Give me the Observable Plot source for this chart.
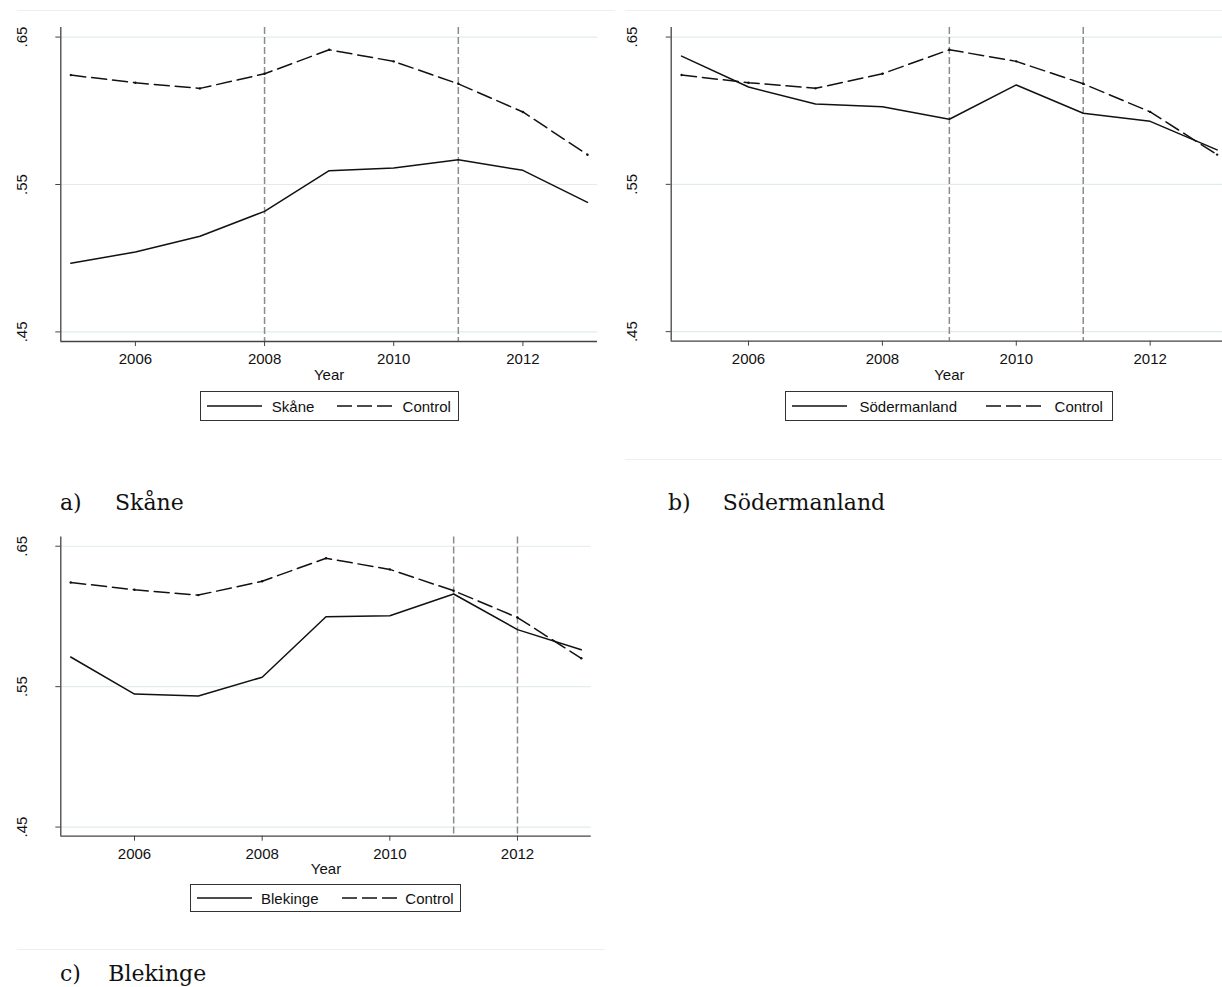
<!DOCTYPE html>
<html><head><meta charset="utf-8">
<script src="https://cdn.jsdelivr.net/npm/d3@7"></script>
<script src="https://cdn.jsdelivr.net/npm/@observablehq/plot@0.6"></script>
<style>
html,body{margin:0;padding:0;background:#fff;}
body{width:1222px;height:987px;overflow:hidden;position:relative;}
.panel{position:absolute;overflow:visible;}
.panel svg{max-width:none !important;display:block;}
.sep{position:absolute;height:1px;background:#eaf0f0;}
.cap{position:absolute;font-family:"DejaVu Serif",serif;font-size:22px;color:#111;white-space:nowrap;line-height:1;}
.legend{position:absolute;border:1px solid #333;box-sizing:border-box;font-family:"Liberation Sans",Arial,sans-serif;font-size:15px;color:#111;}
.legend .it{position:absolute;top:0;height:100%;display:flex;align-items:center;white-space:nowrap;}
</style></head><body>
<script>
// ---- data ----
const years = [2005, 2006, 2007, 2008, 2009, 2010, 2011, 2012, 2013];
const control = [0.6242, 0.6190, 0.6152, 0.6251, 0.6414, 0.6335, 0.6183, 0.5992, 0.5702];
const skane = [0.4966, 0.5042, 0.5149, 0.5318, 0.5594, 0.5612, 0.5668, 0.5596, 0.5379];
const sodermanland = [0.6371, 0.6161, 0.6046, 0.6027, 0.5942, 0.6175, 0.5983, 0.5928, 0.5734];
const blekinge = [0.5711, 0.5447, 0.5433, 0.5567, 0.5998, 0.6005, 0.6160, 0.5906, 0.5763];
const yTicks = [0.45, 0.55, 0.65];
const yTickLabels = [".45", ".55", ".65"];
const xTicks = [2006, 2008, 2010, 2012];
const seriesNames = ["Skåne", "Södermanland", "Blekinge"];
const controlName = "Control";
const eventsA = [2008, 2011];
const eventsB = [2009, 2011];
const eventsC = [2011, 2012];
const captions = ["a)", "b)", "c)"];

const xDomain = [2004.845, 2013.155];
const yDomain = [0.4435, 0.6565];

const panels = [
  {name: seriesNames[0], series: skane, events: eventsA, left: 0, top: 0, w: 610, h: 390, ml: 60.3, mr: 13, mt: 27, mb: 49, yearDy: 34, tickPad: 7,
   legend: {left: 199.6, top: 391, w: 259, h: 30, s1: 7, t1: 72.2, s2: 137.8, t2: 203}},
  {name: seriesNames[1], series: sodermanland, events: eventsB, left: 610, top: 0, w: 617, h: 390, ml: 60.7, mr: 0, mt: 27, mb: 49.3, yearDy: 34, tickPad: 7,
   legend: {left: 784.8, top: 391, w: 328, h: 30, s1: 7.1, t1: 74.7, s2: 201.7, t2: 269.8}},
  {name: seriesNames[2], series: blekinge, events: eventsC, left: 0, top: 520, w: 610, h: 360, ml: 60.3, mr: 19.3, mt: 16.6, mb: 44.3, yearDy: 32.6, tickPad: 7.5,
   legend: {left: 190, top: 884, w: 271, h: 28, s1: 6.7, t1: 71, s2: 151.7, t2: 215.3}}
];

function sample(dashed) {
  return `<svg width="55" height="10" style="display:block"><line x1="0" x2="55" y1="5" y2="5" stroke="#111" stroke-width="1.5" ${dashed ? 'stroke-dasharray="15,5"' : ''}/></svg>`;
}

panels.forEach(p => {
  const data = years.map((yr, i) => ({year: yr, v: p.series[i]}));
  const ctrl = years.map((yr, i) => ({year: yr, v: control[i]}));
  const plot = Plot.plot({
    width: p.w, height: p.h,
    marginLeft: p.ml, marginRight: p.mr, marginTop: p.mt, marginBottom: p.mb,
    style: {background: "transparent", fontFamily: "'Liberation Sans', Arial, sans-serif", fontSize: "15px", color: "#111", overflow: "visible"},
    x: {domain: xDomain, axis: null},
    y: {domain: yDomain, axis: null},
    marks: [
      Plot.gridY(yTicks, {stroke: "#e2ebee", strokeOpacity: 1, strokeWidth: 1.2}),
      Plot.ruleX(p.events, {stroke: "#8c8c8c", strokeWidth: 1.5, strokeDasharray: "7,3"}),
      Plot.ruleY([yDomain[0]], {stroke: "#444", strokeWidth: 1.3}),
      Plot.ruleX([xDomain[0]], {stroke: "#444", strokeWidth: 1.3}),
      Plot.axisX(xTicks, {tickSize: 5, tickPadding: p.tickPad, tickFormat: d => String(d), fontSize: 15, stroke: "#444", label: null}),
      Plot.axisY(yTicks, {tickSize: 5, tickFormat: () => "", stroke: "#444", label: null}),
      Plot.text(yTicks, {y: d => d, frameAnchor: "left", dx: -39, rotate: -90, text: (d, i) => yTickLabels[i], textAnchor: "middle", lineAnchor: "middle", fontSize: 15, fill: "#111"}),
      Plot.text(["Year"], {frameAnchor: "bottom", dy: p.yearDy, text: d => d, lineAnchor: "middle", fontSize: 15, fill: "#111"}),
      Plot.line(ctrl, {x: "year", y: "v", stroke: "#111", strokeWidth: 1.5, strokeDasharray: "15,6"}),
      Plot.dot(ctrl, {x: "year", y: "v", r: 1.2, fill: "#111"}),
      Plot.line(data, {x: "year", y: "v", stroke: "#111", strokeWidth: 1.5})
    ]
  });
  const div = document.createElement("div");
  div.className = "panel";
  div.style.left = p.left + "px";
  div.style.top = p.top + "px";
  div.style.width = p.w + "px";
  div.style.height = p.h + "px";
  div.appendChild(plot);
  document.body.appendChild(div);

  const L = p.legend;
  const lg = document.createElement("div");
  lg.className = "legend";
  lg.style.left = L.left + "px"; lg.style.top = L.top + "px";
  lg.style.width = L.w + "px"; lg.style.height = L.h + "px";
  lg.innerHTML =
    `<div class="it" style="left:${L.s1 - 1}px">${sample(false)}</div>` +
    `<div class="it" style="left:${L.t1 - 1}px">${p.name}</div>` +
    `<div class="it" style="left:${L.s2 - 1}px">${sample(true)}</div>` +
    `<div class="it" style="left:${L.t2 - 1}px">${controlName}</div>`;
  document.body.appendChild(lg);
});

// separators (document frame lines)
[[17, 10, 598], [625, 10, 597], [625, 459, 597], [17, 949, 588]].forEach(([x, y, w]) => {
  const s = document.createElement("div");
  s.className = "sep";
  s.style.left = x + "px"; s.style.top = y + "px"; s.style.width = w + "px";
  document.body.appendChild(s);
});

// captions
const capPos = [
  {lx: 60, nx: 115, top: 492},
  {lx: 668, nx: 722.7, top: 491.5},
  {lx: 60, nx: 108.3, top: 963}
];
capPos.forEach((c, i) => {
  const a = document.createElement("div");
  a.className = "cap"; a.style.left = c.lx + "px"; a.style.top = c.top + "px";
  a.textContent = captions[i];
  document.body.appendChild(a);
  const b = document.createElement("div");
  b.className = "cap"; b.style.left = c.nx + "px"; b.style.top = c.top + "px";
  b.textContent = seriesNames[i];
  document.body.appendChild(b);
});
</script>
</body></html>
